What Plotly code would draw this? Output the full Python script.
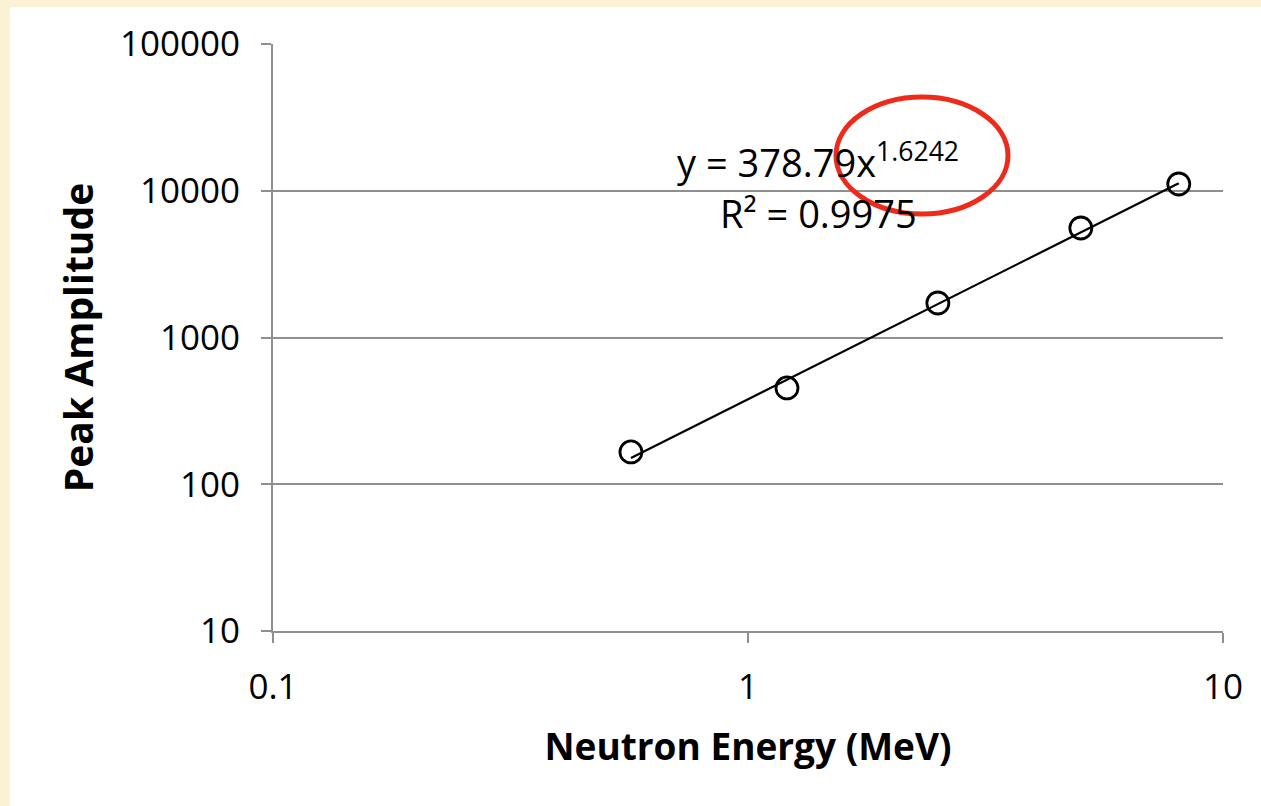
import numpy as np
import plotly.graph_objects as go

# Data
energy_mev = [0.567, 1.208, 2.51, 5.02, 8.07]
peak_amplitude = [166, 453, 1718, 5573, 11120]

# Power-law trendline as reported on the chart
fit_a = 378.79
fit_b = 1.6242
fit_r2 = 0.9975

x_ticks = [0.1, 1, 10]
x_ticklabels = ["0.1", "1", "10"]
y_ticks = [10, 100, 1000, 10000, 100000]
y_ticklabels = ["10", "100", "1000", "10000", "100000"]

FONT = "Open Sans"
GRID = "#8f8f8f"

trend_x = np.logspace(np.log10(min(energy_mev)), np.log10(max(energy_mev)), 50)
trend_y = fit_a * trend_x ** fit_b

fig = go.Figure()
fig.add_trace(go.Scatter(
    x=trend_x, y=trend_y, mode="lines",
    line=dict(color="black", width=2.2), hoverinfo="skip", showlegend=False))
fig.add_trace(go.Scatter(
    x=energy_mev, y=peak_amplitude, mode="markers",
    marker=dict(symbol="circle-open", size=22, color="black",
                line=dict(color="black", width=2.8)),
    showlegend=False))

L, R, T, B = 273, 38, 44, 175
W, H = 1261, 806
pw = W - L - R
ph = H - T - B

def px(xp):
    return (xp - L) / pw

def py(yp):
    return (H - B - yp) / ph

shapes = [
    # cream frame + white card
    dict(type="rect", xref="paper", yref="paper", layer="below",
         x0=px(10), x1=px(W + 5), y0=py(H + 5), y1=py(7),
         fillcolor="white", line=dict(width=0)),
    # red hand-drawn ellipse
    dict(type="circle", xref="paper", yref="paper", layer="above",
         x0=px(836), x1=px(1008), y0=py(214), y1=py(97),
         line=dict(color="#ee2a1b", width=5), fillcolor="rgba(0,0,0,0)"),
]

fig.update_layout(
    width=W, height=H,
    margin=dict(l=L, r=R, t=T, b=B),
    paper_bgcolor="#fbf1d4",
    plot_bgcolor="white",
    font=dict(family=FONT, color="black", size=35),
    shapes=shapes,
    xaxis=dict(
        type="log", range=[-1, 1],
        tickvals=x_ticks, ticktext=x_ticklabels,
        ticks="outside", ticklen=10, tickwidth=2, tickcolor=GRID,
        showline=True, linecolor=GRID, linewidth=2,
        showgrid=False, zeroline=False,
        tickfont=dict(size=35, family=FONT),
        ticklabelstandoff=14,
        title=dict(text="<b>Neutron Energy (MeV)</b>", font=dict(size=37, family=FONT), standoff=26),
    ),
    yaxis=dict(
        type="log", range=[1, 5],
        tickvals=y_ticks, ticktext=y_ticklabels,
        ticks="outside", ticklen=10, tickwidth=2, tickcolor=GRID,
        showline=True, linecolor=GRID, linewidth=2,
        showgrid=True, gridcolor=GRID, gridwidth=2,
        zeroline=False,
        tickfont=dict(size=35, family=FONT),
        ticklabelstandoff=14,
        title=dict(text="<b>Peak Amplitude</b>", font=dict(size=39, family=FONT), standoff=14),
    ),
    annotations=[
        dict(xref="paper", yref="paper", x=px(818), y=py(160),
             text=f"y = {fit_a}x<sup>{fit_b}</sup>", showarrow=False,
             font=dict(size=38, family=FONT), xanchor="center", yanchor="middle"),
        dict(xref="paper", yref="paper", x=px(818), y=py(213),
             text=f"R² = {fit_r2}", showarrow=False,
             font=dict(size=38, family=FONT), xanchor="center", yanchor="middle"),
    ],
)

fig.write_html("out.html")
